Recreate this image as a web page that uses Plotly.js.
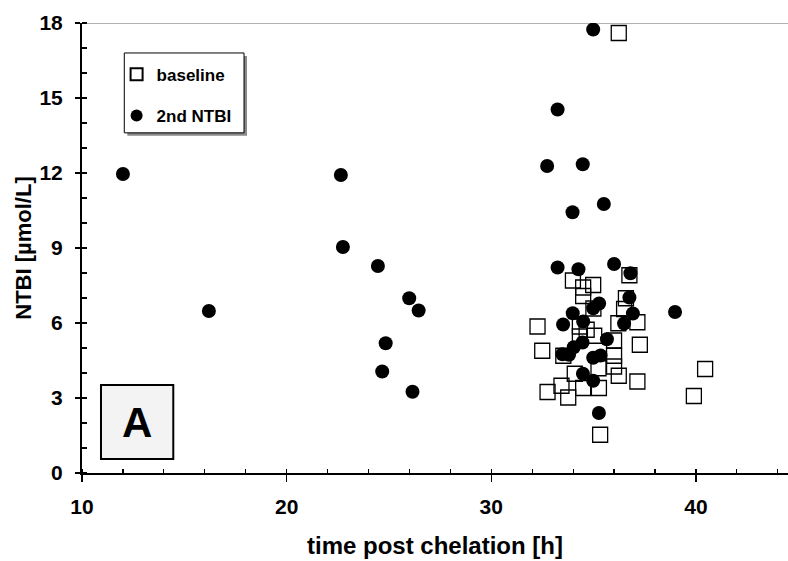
<!DOCTYPE html>
<html>
<head>
<meta charset="utf-8">
<script src="https://cdn.plot.ly/plotly-3.0.1.min.js"></script>
<style>
  html, body { margin: 0; padding: 0; background: #fff; }
  #chart { width: 788px; height: 561px; }
</style>
</head>
<body>
<div id="chart"></div>
<script>
// NTBI before chelation (baseline) and second NTBI measurement vs. time post chelation
const baselineTime = [36.23, 33.99, 34.98, 34.49, 34.49, 36.75, 36.58, 36.49, 34.99, 36.21,
  37.14, 32.26, 34.33, 34.66, 35.03, 34.33, 32.49, 33.52, 37.26, 36.00,
  36.00, 36.23, 34.08, 33.43, 32.75, 33.76, 34.49, 35.26, 37.14, 35.32,
  39.90, 40.45, 36.00, 35.24];
const baselineNTBI = [17.60, 7.70, 7.52, 7.42, 7.08, 7.91, 6.99, 6.56, 6.58, 5.99,
  6.03, 5.86, 5.86, 5.73, 5.49, 5.46, 4.89, 4.69, 5.13, 4.69,
  4.26, 3.89, 3.97, 3.49, 3.24, 3.02, 3.40, 3.40, 3.66, 1.53,
  3.08, 4.16, 5.30, 4.19];

const secondTime = [12.00, 16.20, 22.65, 22.75, 24.46, 24.84, 24.67, 25.99, 26.45, 26.15,
  38.98, 34.98, 33.24, 32.73, 34.47, 33.97, 35.50, 33.24, 34.26, 36.00,
  36.80, 36.75, 36.92, 36.49, 35.27, 34.98, 33.98, 33.51, 34.49, 34.46,
  34.03, 33.48, 33.80, 35.65, 34.98, 35.34, 34.48, 34.98, 35.26];
const secondNTBI = [11.96, 6.48, 11.92, 9.04, 8.28, 5.19, 4.06, 6.99, 6.50, 3.25,
  6.44, 17.74, 14.54, 12.28, 12.35, 10.43, 10.76, 8.22, 8.15, 8.36,
  7.99, 7.02, 6.38, 5.98, 6.78, 6.59, 6.39, 5.94, 6.06, 5.22,
  5.03, 4.75, 4.73, 5.35, 4.61, 4.70, 3.97, 3.69, 2.40];

const seriesNames = ['baseline', '2nd NTBI'];
const xTickVals = [10, 20, 30, 40];
const yTickVals = [0, 3, 6, 9, 12, 15, 18];

const FONT = 'Liberation Sans, Arial, Helvetica, sans-serif';

const traces = [
  {
    x: baselineTime, y: baselineNTBI, name: seriesNames[0],
    type: 'scatter', mode: 'markers', legendgroup: 'a',
    marker: { symbol: 'square-open', size: 15, color: '#000', line: { width: 1.3, color: '#111' } }
  },
  {
    x: secondTime, y: secondNTBI, name: seriesNames[1],
    type: 'scatter', mode: 'markers', legendgroup: 'b',
    marker: { symbol: 'circle', size: 14, color: '#000', line: { width: 0 } }
  }
];

const layout = {
  width: 788, height: 561,
  margin: { l: 82, r: 0, t: 23, b: 88, pad: 0 },
  paper_bgcolor: '#fff', plot_bgcolor: '#fff',
  font: { family: FONT, color: '#000' },
  showlegend: true,
  legend: {
    x: 0.049, y: 0.925, xanchor: 'left', yanchor: 'top',
    bgcolor: 'rgba(0,0,0,0)', borderwidth: 0,
    font: { family: FONT, size: 17, weight: 700, color: '#000' },
    traceorder: 'grouped', tracegroupgap: 16, itemsizing: 'constant'
  },
  xaxis: {
    range: [10, 44.5], showgrid: false, zeroline: false,
    showline: true, linecolor: '#000', linewidth: 2,
    tickmode: 'array', tickvals: xTickVals,
    ticks: 'outside', ticklen: 7, tickwidth: 1.5, tickcolor: '#000',
    ticklabelstandoff: 7,
    minor: { dtick: 2, tick0: 10, ticks: 'inside', ticklen: 4, tickwidth: 1.2, tickcolor: '#000' },
    tickfont: { family: FONT, size: 21, weight: 700 },
    title: { text: 'time post chelation [h]', font: { family: FONT, size: 24, weight: 700 }, standoff: 20 },
    fixedrange: true
  },
  yaxis: {
    range: [0, 18], showgrid: false, zeroline: false,
    showline: true, linecolor: '#000', linewidth: 2,
    tickmode: 'array', tickvals: yTickVals,
    ticks: 'outside', ticklen: 5, tickwidth: 1.5, tickcolor: '#000',
    ticklabelstandoff: 8,
    minor: { dtick: 1, tick0: 0, ticks: 'inside', ticklen: 5, tickwidth: 1.2, tickcolor: '#000' },
    tickfont: { family: FONT, size: 21, weight: 700 },
    title: { text: 'NTBI [µmol/L]', font: { family: FONT, size: 22, weight: 700 }, standoff: 2 },
    fixedrange: true
  },
  shapes: [
    // light top frame line at y = 18
    { type: 'line', xref: 'paper', yref: 'y', x0: 0, x1: 1, y0: 18, y1: 18,
      line: { color: '#9a9a9a', width: 1.5 }, layer: 'below' },
    // legend box with drop shadow
    { type: 'rect', xref: 'paper', yref: 'paper', x0: 0.0642, x1: 0.2337, y0: 0.7493, y1: 0.9268,
      fillcolor: '#8a8a8a', line: { width: 0 }, layer: 'below' },
    { type: 'rect', xref: 'paper', yref: 'paper', x0: 0.0599, x1: 0.2295, y0: 0.7559, y1: 0.9334,
      fillcolor: '#fff', line: { color: '#000', width: 1 }, layer: 'below' },
    // panel label box
    { type: 'rect', xref: 'paper', yref: 'paper', x0: 0.0269, x1: 0.1293, y0: 0.0311, y1: 0.1953,
      fillcolor: '#f3f3f3', line: { color: '#000', width: 2 }, layer: 'above' }
  ],
  annotations: [
    { text: 'A', xref: 'paper', yref: 'paper', x: 0.0781, y: 0.113,
      xanchor: 'center', yanchor: 'middle', showarrow: false,
      font: { family: FONT, size: 42, weight: 700, color: '#000' } }
  ]
};

Plotly.newPlot('chart', traces, layout, { displayModeBar: false, staticPlot: true });
</script>
</body>
</html>
